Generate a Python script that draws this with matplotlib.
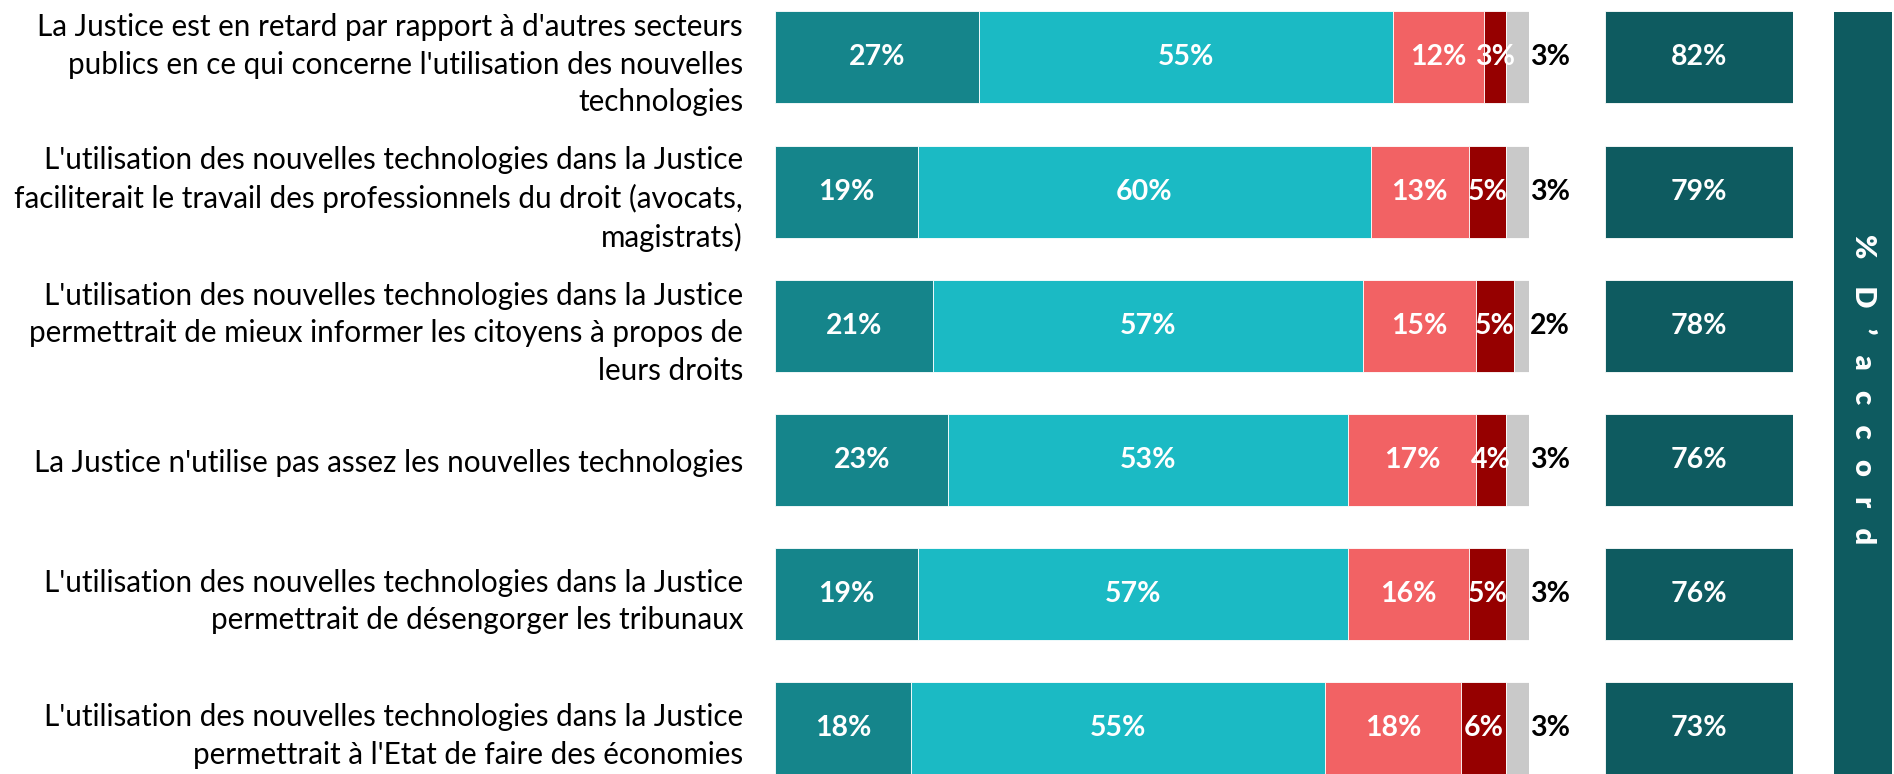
import numpy as np
import matplotlib.pyplot as plt

plt.rcParams['font.family'] = ['Lato', 'DejaVu Sans']

# données
labels = [
    "La Justice est en retard par rapport à d'autres secteurs\npublics en ce qui concerne l'utilisation des nouvelles\ntechnologies",
    "L'utilisation des nouvelles technologies dans la Justice\nfaciliterait le travail des professionnels du droit (avocats,\nmagistrats)",
    "L'utilisation des nouvelles technologies dans la Justice\npermettrait de mieux informer les citoyens à propos de\nleurs droits",
    "La Justice n'utilise pas assez les nouvelles technologies",
    "L'utilisation des nouvelles technologies dans la Justice\npermettrait de désengorger les tribunaux",
    "L'utilisation des nouvelles technologies dans la Justice\npermettrait à l'Etat de faire des économies",
]
tout_a_fait = [27, 19, 21, 23, 19, 18]
plutot_oui = [55, 60, 57, 53, 57, 55]
plutot_non = [12, 13, 15, 17, 16, 18]
pas_du_tout = [3, 5, 5, 4, 5, 6]
nsp = [3, 3, 2, 3, 3, 3]
total_accord = [82, 79, 78, 76, 76, 73]

series = [tout_a_fait, plutot_oui, plutot_non, pas_du_tout, nsp]
colors = ['#15858B', '#1BBAC4', '#F26264', '#960000', '#C9C9C9']
box_color = '#0E5B60'

W, H = 1894, 774
fig = plt.figure(figsize=(W / 100, H / 100), dpi=100)

# placement des lignes (en pixels)
step = 134.2
c0 = 57.5
y_top = -c0 / step
y_bot = (H - c0) / step
bar_h = 92 / step
y = np.arange(len(labels))

# barres empilées
ax = fig.add_axes([775 / W, 0, (1529 - 775) / W, 1])
left = np.zeros(len(labels))
for k, (vals, col) in enumerate(zip(series, colors)):
    vals = np.array(vals)
    ax.barh(y, vals, left=left, height=bar_h, color=col, edgecolor='white', linewidth=0.6)
    if k < 4:
        for yi, v, l in zip(y, vals, left):
            ax.text(l + v / 2, yi, f'{v}%', ha='center', va='center',
                    color='white', fontsize=20.5, fontweight='bold')
    else:
        for yi, v, l in zip(y, vals, left):
            ax.text(l + v + 0.1, yi, f'{v}%', ha='left', va='center',
                    color='black', fontsize=20.5, fontweight='bold')
    left += vals

ax.set_xlim(0, 100)
ax.set_ylim(y_bot, y_top)
ax.set_xticks([])
ax.set_yticks(y)
ax.set_yticklabels(labels, fontsize=21.3, linespacing=1.42)
ax.tick_params(axis='y', length=0, pad=23)
for s in ax.spines.values():
    s.set_visible(False)

# colonne % d'accord
ax2 = fig.add_axes([1605 / W, 0, (1793 - 1605) / W, 1])
ax2.barh(y, np.ones(len(y)), height=bar_h, color=box_color, edgecolor='white', linewidth=0.6)
for yi, v in zip(y, total_accord):
    ax2.text(0.5, yi, f'{v}%', ha='center', va='center', color='white',
             fontsize=20.5, fontweight='bold')
ax2.set_xlim(0, 1)
ax2.set_ylim(y_bot, y_top)
ax2.axis('off')

# bandeau vertical
ax3 = fig.add_axes([1834 / W, 0, (1892 - 1834) / W, (H - 12) / H])
ax3.set_facecolor(box_color)
ax3.set_xticks([])
ax3.set_yticks([])
for s in ax3.spines.values():
    s.set_visible(False)
ax3.text(0.5, 0.505, '%    D   ’   a   c   c   o   r   d', rotation=270, ha='center', va='center',
         color='white', fontsize=21, fontweight='heavy', transform=ax3.transAxes)

fig.savefig('out.png', dpi=100)
